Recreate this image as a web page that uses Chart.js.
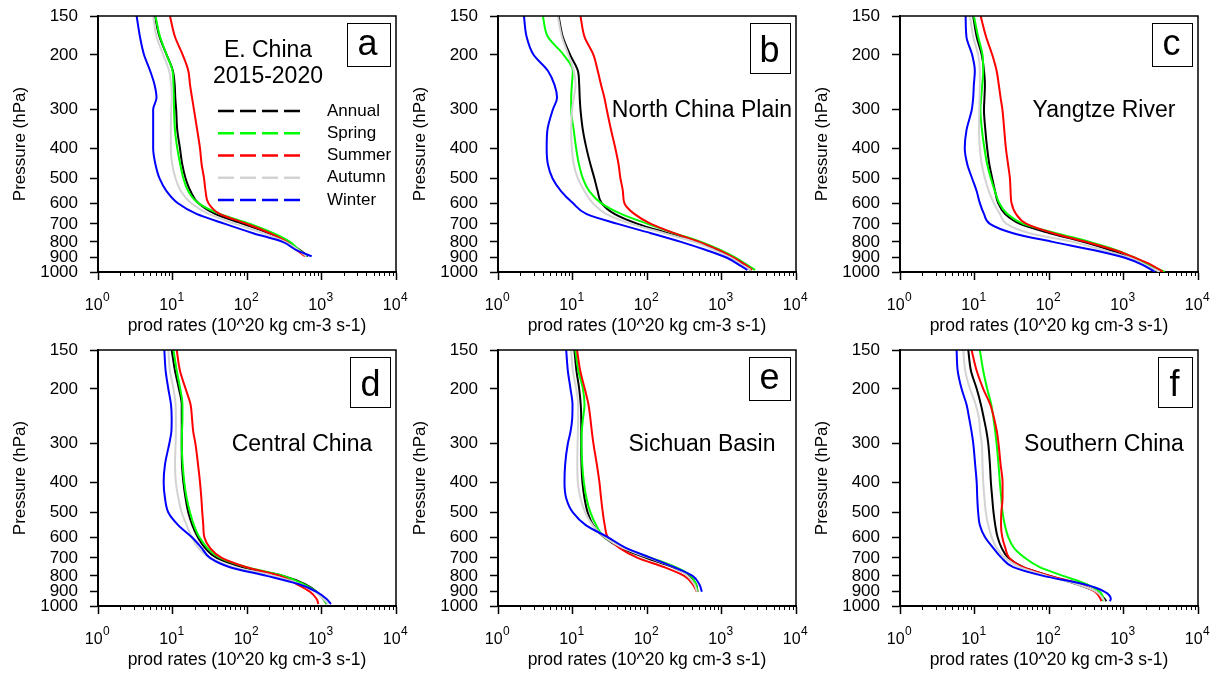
<!DOCTYPE html>
<html>
<head>
<meta charset="utf-8">
<script src="https://cdn.jsdelivr.net/npm/chart.js@4.4.1/dist/chart.umd.min.js"></script>
<style>
  body { margin: 0; background: #fff; overflow: hidden; }
  #wrap { position: relative; width: 1220px; height: 680px; background: #fff; }
  canvas { position: absolute; }
</style>
</head>
<body>
<div id="wrap">
  <canvas id="pa" width="418" height="346" style="left:0px;top:0px"></canvas>
  <canvas id="pb" width="418" height="346" style="left:400px;top:0px"></canvas>
  <canvas id="pc" width="418" height="346" style="left:802px;top:0px"></canvas>
  <canvas id="pd" width="418" height="346" style="left:0px;top:334px"></canvas>
  <canvas id="pe" width="418" height="346" style="left:400px;top:334px"></canvas>
  <canvas id="pf" width="418" height="346" style="left:802px;top:334px"></canvas>
</div>
<script>
// ---- data (production rates, 10^20 kg cm-3 s-1, per pressure level in hPa) ----
const seasons = ['Annual', 'Spring', 'Summer', 'Autumn', 'Winter'];
const xTicks = [1, 10, 100, 1000, 10000];
const xTickExps = ['0', '1', '2', '3', '4'];   // shown as 10^n
const yTicks = [150, 200, 300, 400, 500, 600, 700, 800, 900, 1000];

// a: E. China
const levA = [150, 175, 200, 225, 250, 275, 300, 350, 400, 450, 500, 550, 600, 650, 700, 750, 800, 850, 890];
const annualA = [5.8, 6.7, 8.35, 10.1, 10.7, 10.9, 11.2, 11.6, 12.6, 13.5, 15.0, 17.5, 22.2, 37.3, 89, 193, 340, 514, 660];
const springA = [5.9, 6.8, 8.35, 10.0, 10.3, 10.4, 10.5, 10.8, 11.6, 12.7, 14.0, 16.3, 22.2, 43, 110, 226, 378, 500, 640];
const summerA = [9.25, 10.8, 13.7, 16.3, 17.2, 18.3, 19.4, 21.5, 23.4, 24.6, 26.5, 27.8, 30.3, 43, 99, 203, 340, 464, 601];
const autumnA = [5.5, 6.1, 7.5, 9.0, 9.6, 9.75, 9.6, 9.5, 9.5, 9.9, 11.0, 13.0, 17.7, 30.4, 69, 165, 325, 490, 630];
const winterA = [3.3, 3.66, 4.15, 5.0, 5.75, 6.1, 5.5, 5.5, 5.5, 5.9, 6.7, 8.35, 11.7, 21, 50.6, 121, 300, 460, 738];

// b: North China Plain
const levB = [150, 175, 200, 225, 250, 275, 300, 350, 400, 450, 500, 550, 600, 650, 700, 750, 800, 850, 900, 950, 985];
const annualB = [6.5, 7.4, 9.3, 11.8, 12.3, 12.5, 12.8, 13.8, 15.4, 17.4, 19.7, 21.8, 24.6, 36.5, 75, 190, 475, 890, 1400, 2000, 2470];
const springB = [4.0, 4.67, 7.6, 10.1, 9.8, 9.6, 9.6, 10.4, 11.2, 12.2, 13.8, 16.9, 24.2, 44.9, 102, 232, 530, 980, 1560, 2230, 2825];
const summerB = [12.8, 14.5, 19.1, 21.8, 24.2, 26.8, 28.8, 33, 37.6, 41.5, 44, 47.5, 49.7, 67.5, 113, 232, 500, 930, 1470, 2130, 2580];
const autumnB = [6.36, 7.2, 8.8, 10.4, 11.0, 10.4, 9.9, 9.6, 9.8, 10.4, 11.8, 14.5, 18.7, 28.2, 61, 170, 430, 800, 1334, 1900, 2470];
const winterB = [2.23, 2.42, 3.0, 4.67, 5.74, 6.2, 5.45, 4.6, 4.5, 4.67, 5.4, 7.05, 10.1, 15.3, 40.5, 113, 285, 620, 1180, 1740, 2230];

// c: Yangtze River
const levC = [150, 175, 200, 225, 250, 275, 300, 350, 400, 450, 500, 550, 600, 650, 700, 750, 800, 850, 900, 950, 1000];
const annualC = [9.6, 10.7, 12.5, 13.4, 13.8, 13.6, 13.4, 14.0, 14.8, 15.8, 17.3, 18.9, 20.8, 25.6, 40.7, 103, 288, 655, 1200, 2000, 3250];
const springC = [9.8, 11.2, 12.8, 13.1, 12.7, 12.3, 12.0, 12.6, 13.6, 14.8, 16.6, 18.8, 21.5, 27.5, 45, 125, 353, 800, 1420, 2250, 3580];
const summerC = [12.1, 14.3, 17.3, 19.8, 21.2, 22.4, 23.7, 25.1, 26.4, 28.2, 29.9, 30.5, 31.4, 36, 50, 114, 318, 760, 1420, 2390, 3380];
const autumnC = [8.7, 9.6, 11.2, 11.8, 11.8, 11.7, 11.6, 11.5, 11.8, 12.5, 13.8, 15.6, 18.2, 21.9, 26.9, 55, 210, 530, 1200, 2000, 3069];
const winterC = [7.6, 7.8, 9.3, 10.1, 9.8, 9.6, 9.2, 7.8, 7.4, 8.0, 9.3, 10.7, 11.8, 13.4, 16.1, 33, 113, 392, 1040, 1834, 2640];

// d: Central China
const levD = [150, 175, 200, 225, 250, 275, 300, 350, 400, 450, 500, 550, 600, 650, 700, 750, 800, 850, 900, 950, 985];
const annualD = [9.75, 10.8, 12.2, 13.3, 13.3, 13.3, 13.3, 13.4, 14.0, 15.0, 16.3, 18.5, 21.8, 27.3, 39.2, 89, 307, 601, 861, 1059, 1172];
const springD = [10.3, 11.4, 12.7, 13.6, 13.6, 13.4, 13.3, 13.7, 14.4, 15.5, 17.2, 19.4, 22.9, 29.4, 43.4, 99, 307, 570, 861, 1059, 1172];
const summerD = [11.4, 12.6, 15.0, 17.5, 18.3, 19.0, 20.3, 22.0, 23.4, 24.4, 25.1, 25.9, 26.7, 31.9, 45.7, 99, 277, 464, 701, 861, 907];
const autumnD = [8.79, 9.25, 10.3, 11.0, 11.1, 11.1, 11.0, 10.8, 11.1, 12.0, 13.3, 15.5, 18.1, 22.2, 31.9, 65.6, 226, 514, 818, 1059, 1236];
const winterD = [7.77, 8.09, 8.79, 9.55, 9.75, 9.65, 9.06, 7.93, 7.61, 7.93, 8.79, 12.0, 18.1, 24.6, 31.9, 59, 184, 489, 861, 1172, 1341];

// e: Sichuan Basin
const levE = [150, 175, 200, 225, 250, 275, 300, 350, 400, 450, 500, 550, 600, 650, 700, 750, 800, 850, 900];
const annualE = [10.6, 11.3, 12.3, 12.9, 13.1, 13.1, 13.1, 13.2, 13.6, 14.5, 16.0, 19.1, 26.3, 44.9, 97, 221, 369, 453, 477];
const springE = [10.9, 12.0, 13.8, 14.5, 13.8, 13.3, 13.2, 13.5, 14.2, 15.4, 17.4, 20.8, 26.8, 48.7, 113, 244, 388, 453, 477];
const summerE = [11.5, 12.7, 14.6, 16.4, 17.4, 18.2, 19.1, 21.2, 23.0, 24.2, 25.5, 27.1, 29.7, 42.6, 75, 171, 316, 409, 468];
const autumnE = [9.6, 10.1, 11.2, 11.9, 11.9, 11.8, 11.7, 11.6, 11.8, 12.8, 14.8, 18.7, 26.8, 47.2, 107, 232, 350, 430, 468];
const winterE = [8.23, 8.66, 9.4, 10.0, 9.9, 9.4, 8.66, 7.97, 7.81, 8.23, 10.1, 15.2, 29.7, 52, 113, 232, 409, 502, 545];

// f: Southern China
const levF = [150, 175, 200, 225, 250, 275, 300, 350, 400, 450, 500, 550, 600, 650, 700, 750, 800, 850, 900, 950, 965];
const annualF = [8.25, 8.96, 10.7, 12.2, 13.4, 14.5, 15.3, 16.1, 16.6, 17.3, 18.0, 19.0, 20.4, 23.1, 28.4, 45, 103, 234, 434, 561, 591];
const springF = [11.8, 13.1, 14.8, 16.8, 18.0, 19.0, 19.8, 21.0, 21.9, 22.9, 23.8, 25.6, 28.4, 33.8, 47.5, 75, 155, 318, 481, 533, 533];
const summerF = [9.14, 10.7, 13.1, 16.3, 18.4, 20.0, 21.0, 22.4, 23.8, 23.8, 22.9, 22.7, 23.6, 25.9, 29.3, 45, 103, 259, 414, 493, 506];
const autumnF = [7.07, 7.52, 8.69, 10.4, 11.5, 11.9, 12.5, 12.8, 13.1, 13.6, 14.2, 15.3, 17.0, 19.8, 25.6, 40.7, 92.7, 234, 434, 533, 561];
const winterF = [5.75, 5.95, 6.71, 7.83, 8.51, 9.14, 9.63, 10.2, 10.7, 10.9, 11.2, 11.8, 13.8, 17.8, 23.1, 33.1, 83.6, 288, 561, 676, 655];

// ---- styling ----
const FONT = "'Liberation Sans', Arial, Helvetica, sans-serif";
const seasonColors = ['#000000', '#00ff00', '#ff0000', '#d3d3d3', '#0000ff'];

Chart.defaults.font.family = FONT;
Chart.defaults.color = '#000';

const panels = [
  { id: 'pa', letter: 'a', lev: levA, series: [annualA, springA, summerA, autumnA, winterA], title: ['E. China', '2015-2020'], legend: true },
  { id: 'pb', letter: 'b', lev: levB, series: [annualB, springB, summerB, autumnB, winterB], region: 'North China Plain' },
  { id: 'pc', letter: 'c', lev: levC, series: [annualC, springC, summerC, autumnC, winterC], region: 'Yangtze River' },
  { id: 'pd', letter: 'd', lev: levD, series: [annualD, springD, summerD, autumnD, winterD], region: 'Central China' },
  { id: 'pe', letter: 'e', lev: levE, series: [annualE, springE, summerE, autumnE, winterE], region: 'Sichuan Basin' },
  { id: 'pf', letter: 'f', lev: levF, series: [annualF, springF, summerF, autumnF, winterF], region: 'Southern China' }
];

// frame, minor ticks, 10^n labels, panel letter, region text, legend
const decorPlugin = {
  id: 'decor',
  afterDatasetsDraw(chart, args, opts) {
    const { ctx, chartArea: a } = chart;
    const xs = chart.scales.x;
    ctx.save();

    ctx.strokeStyle = '#000';
    ctx.lineWidth = 1.5;
    ctx.beginPath();
    ctx.moveTo(a.left, a.top);
    ctx.lineTo(a.right, a.top);
    ctx.lineTo(a.right, a.bottom);
    ctx.stroke();

    // minor ticks on the log x axis
    ctx.lineWidth = 1;
    ctx.beginPath();
    for (let d = xs.min; d < xs.max; d *= 10) {
      for (let m = 2; m < 10; m++) {
        const px = Math.round(xs.getPixelForValue(d * m)) + 0.5;
        ctx.moveTo(px, a.bottom);
        ctx.lineTo(px, a.bottom + 4);
      }
    }
    ctx.stroke();

    // x tick labels as 10 with a raised exponent
    ctx.fillStyle = '#000';
    ctx.textAlign = 'left';
    ctx.textBaseline = 'alphabetic';
    xs.ticks.forEach(t => {
      const exp = xTickExps[xTicks.indexOf(t.value)];
      const px = xs.getPixelForValue(t.value);
      ctx.font = '16px ' + FONT;
      const wb = ctx.measureText('10').width;
      ctx.font = '12px ' + FONT;
      const we = ctx.measureText(exp).width;
      const x0 = px - (wb + we) / 2 - 1;
      ctx.font = '16px ' + FONT;
      ctx.fillText('10', x0, a.bottom + 38);
      ctx.font = '12px ' + FONT;
      ctx.fillText(exp, x0 + wb + 0.5, a.bottom + 29);
    });

    // letter box
    ctx.font = '36px ' + FONT;
    const m = ctx.measureText(opts.letter);
    const inkW = m.actualBoundingBoxLeft + m.actualBoundingBoxRight;
    const inkH = m.actualBoundingBoxAscent + m.actualBoundingBoxDescent;
    const bw = Math.round(inkW + 23), bh = Math.round(inkH + 23);
    const bx = Math.round(a.right - 6 - bw), by = Math.round(a.top + 7);
    ctx.fillStyle = '#fff';
    ctx.fillRect(bx, by, bw, bh);
    ctx.strokeStyle = '#000';
    ctx.lineWidth = 1;
    ctx.strokeRect(bx + 0.5, by + 0.5, bw, bh);
    ctx.fillStyle = '#000';
    ctx.fillText(opts.letter, bx + 11.5 + m.actualBoundingBoxLeft, by + 11.5 + m.actualBoundingBoxAscent);

    // region name
    ctx.font = '23px ' + FONT;
    ctx.textAlign = 'center';
    if (opts.region) {
      ctx.fillText(opts.region, a.right - 94, a.top + 101);
    }
    if (opts.title) {
      ctx.fillText(opts.title[0], a.right - 128, a.top + 41);
      ctx.fillText(opts.title[1], a.right - 128, a.top + 67);
    }

    // legend
    if (opts.legend) {
      ctx.font = '17px ' + FONT;
      ctx.textAlign = 'left';
      ctx.textBaseline = 'middle';
      chart.data.datasets.forEach((ds, i) => {
        const y = a.top + 95 + 22.25 * i;
        ctx.strokeStyle = ds.borderColor;
        ctx.lineWidth = 2.5;
        ctx.setLineDash([16, 6]);
        ctx.beginPath();
        ctx.moveTo(a.left + 120, y);
        ctx.lineTo(a.left + 206, y);
        ctx.stroke();
        ctx.setLineDash([]);
        ctx.fillStyle = '#000';
        ctx.fillText(ds.label, a.left + 229, y);
      });
    }
    ctx.restore();
  }
};

panels.forEach(p => {
  const ctx = document.getElementById(p.id).getContext('2d');
  new Chart(ctx, {
    type: 'line',
    data: {
      datasets: p.series.map((vals, i) => ({
        label: seasons[i],
        data: vals.map((v, j) => ({ x: v, y: p.lev[j] })),
        borderColor: seasonColors[i],
        backgroundColor: seasonColors[i],
        borderWidth: 2,
        pointRadius: 0,
        fill: false,
        indexAxis: 'y',
        cubicInterpolationMode: 'monotone',
        order: 4 - i
      }))
    },
    options: {
      responsive: false,
      animation: false,
      events: [],
      layout: { padding: { top: 16, right: 22, left: 0, bottom: 0 } },
      plugins: {
        legend: { display: false },
        tooltip: { enabled: false },
        decor: { letter: p.letter, region: p.region, title: p.title, legend: !!p.legend }
      },
      scales: {
        x: {
          type: 'logarithmic',
          position: 'bottom',
          min: 1,
          max: 10000,
          afterBuildTicks: s => { s.ticks = xTicks.map(v => ({ value: v })); },
          afterFit: s => { s.height = 74; s.paddingLeft = 0; s.paddingRight = 0; },
          ticks: { display: false, autoSkip: false, maxRotation: 0 },
          grid: { drawOnChartArea: false, drawTicks: true, tickLength: 8, tickColor: '#000', tickWidth: 1.5 },
          border: { display: true, color: '#000', width: 2 },
          title: { display: true, text: 'prod rates (10^20 kg cm-3 s-1)', color: '#000', font: { size: 17.5 }, padding: { top: 0, bottom: 9 } }
        },
        y: {
          type: 'logarithmic',
          position: 'left',
          reverse: true,
          min: 150,
          max: 1000,
          afterBuildTicks: s => { s.ticks = yTicks.map(v => ({ value: v })); },
          afterFit: s => { s.width = 98; s.paddingTop = 0; s.paddingBottom = 0; },
          ticks: {
            autoSkip: false,
            padding: 12,
            color: '#000',
            font: { size: 17 },
            callback: v => String(v)
          },
          grid: { drawOnChartArea: false, drawTicks: true, tickLength: 8, tickColor: '#000', tickWidth: 1.5 },
          border: { display: true, color: '#000', width: 2 },
          title: { display: true, text: 'Pressure (hPa)', color: '#000', font: { size: 17 }, padding: { top: 10, bottom: 0 } }
        }
      }
    },
    plugins: [decorPlugin]
  });
});
</script>
</body>
</html>
